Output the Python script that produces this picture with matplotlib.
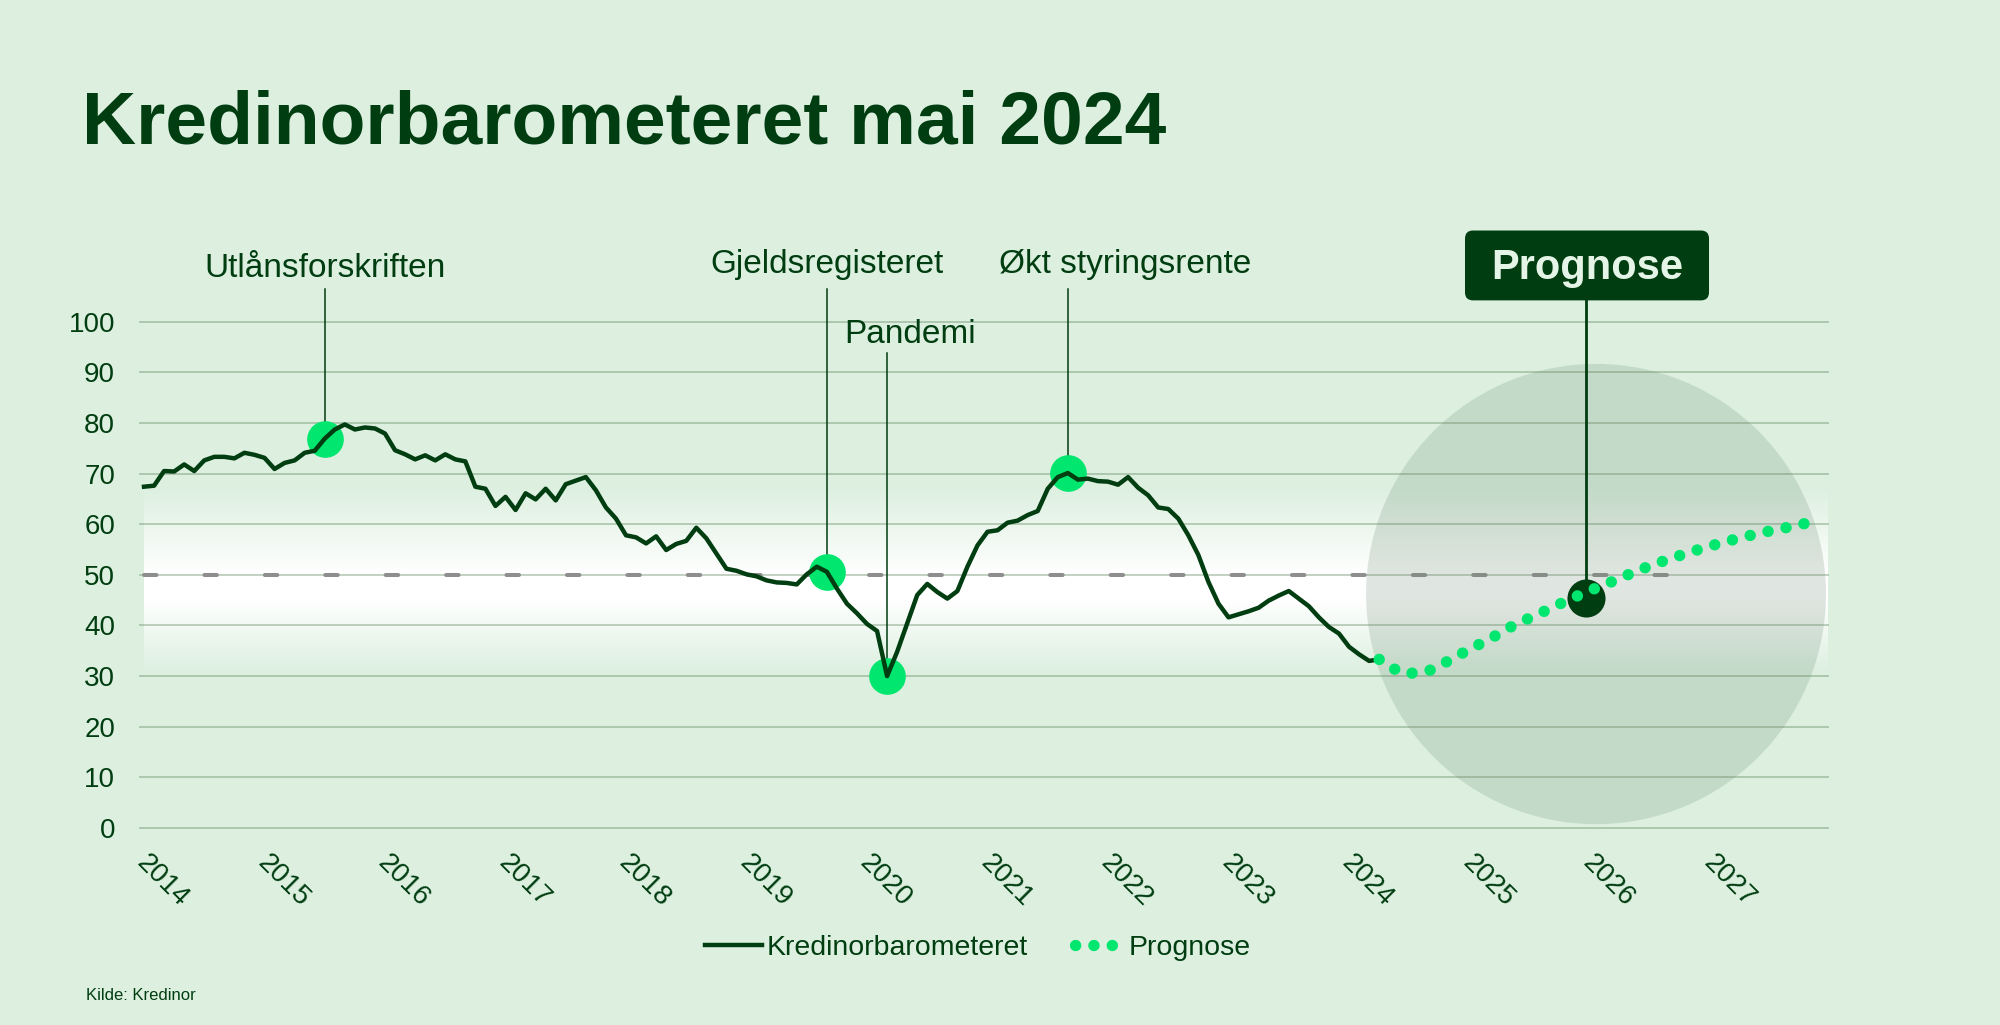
import numpy as np
import matplotlib
matplotlib.use('Agg')
import matplotlib.pyplot as plt
from matplotlib.patches import Ellipse, FancyBboxPatch
from matplotlib.transforms import ScaledTranslation

plt.rcParams['font.family'] = ['Liberation Sans', 'DejaVu Sans']

DARK = '#003d10'
GREEN = '#00e66e'
BG = '#ddf0e0'

# monthly index, Jan 2014 = 0 ... Apr 2024 = 123
barometer = [
    67.4, 67.6, 70.5, 70.4, 71.8, 70.5, 72.6, 73.3, 73.3, 73.0, 74.1, 73.7,
    73.1, 70.9, 72.1, 72.6, 74.1, 74.5, 76.9, 78.7, 79.7, 78.7, 79.1, 78.9,
    77.9, 74.6, 73.8, 72.8, 73.6, 72.6, 73.8, 72.8, 72.4, 67.4, 67.0, 63.6,
    65.4, 62.8, 66.1, 64.9, 67.0, 64.7, 67.9, 68.6, 69.3, 66.7, 63.3, 61.1,
    57.8, 57.4, 56.2, 57.6, 54.9, 56.1, 56.7, 59.3, 57.2, 54.2, 51.2, 50.8,
    50.1, 49.7, 48.9, 48.5, 48.4, 48.1, 50.1, 51.6, 50.6, 47.3, 44.3, 42.4,
    40.3, 38.9, 30.0, 34.8, 40.4, 46.0, 48.2, 46.6, 45.3, 46.8, 51.6, 55.8,
    58.5, 58.8, 60.3, 60.7, 61.8, 62.6, 67.0, 69.3, 70.1, 68.8, 69.0, 68.5,
    68.4, 67.8, 69.3, 67.2, 65.7, 63.3, 63.0, 61.1, 57.8, 53.9, 48.6, 44.3,
    41.6, 42.2, 42.8, 43.5, 44.9, 45.9, 46.8, 45.3, 43.8, 41.6, 39.7, 38.4,
    35.8, 34.3, 33.0, 33.3,
]

forecast_month = [123, 125, 126, 128, 130, 132, 134, 136, 138, 140, 142, 144,
                  146, 148, 150, 152, 154, 156, 158, 160, 162, 164, 166]
forecast = [33.3, 30.8, 30.5, 31.1, 33.1, 35.3, 37.3, 39.6, 41.5, 43.3, 45.2, 46.9,
            48.5, 50.2, 51.8, 53.2, 54.5, 55.7, 56.8, 57.8, 58.7, 59.5, 60.4]

years = list(range(2014, 2028))
y_ticks = list(range(0, 101, 10))

event_labels = ['Utlånsforskriften', 'Gjeldsregisteret', 'Pandemi', 'Økt styringsrente']
event_month = [18, 68, 74, 92]

prognose_month = 143.6
prognose_value = 45.5

months = np.arange(len(barometer))

fig = plt.figure(figsize=(20, 10.25), dpi=100, facecolor=BG)
ax = fig.add_axes([0.07, 0.1922, 0.844, 0.494])
ax.set_facecolor(BG)
for s in ax.spines.values():
    s.set_visible(False)

# white band around 50
yy = np.linspace(31, 67, 300)
alpha = np.clip(np.where(yy < 45, (yy - 31) / 14, np.where(yy > 50, (67 - yy) / 17, 1.0)), 0, 1)
band = np.ones((len(yy), 2, 4))
band[:, :, 3] = alpha[:, None]
ax.imshow(band, extent=(0, 167.7, 31, 67), origin='lower', aspect='auto',
          interpolation='bilinear', zorder=0.5)

for v in y_ticks:
    ax.axhline(v, color='#467246', alpha=0.35, lw=1.3, zorder=1, clip_on=False)

ax.plot([0, 152], [50, 50], color='#8e8e8e', lw=2.9, dashes=(3.1, 11.9),
        dash_capstyle='round', zorder=1.5)

# forecast highlight circle
ax.add_patch(Ellipse((144.6, 46.2), 45.8, 90.9, facecolor='#6e8c73', alpha=0.22,
                     edgecolor='none', zorder=2, clip_on=False))

# event markers and labels
label_pos = {
    'Utlånsforskriften': (18, 108.9, 'center', 106.4),
    'Gjeldsregisteret': (68, 109.6, 'center', 106.4),
    'Pandemi': (76.3, 95.7, 'center', 93.8),
    'Økt styringsrente': (85.1, 109.6, 'left', 106.4),
}
for name, m in zip(event_labels, event_month):
    tx, ty, ha, top = label_pos[name]
    ax.plot([m, m], [top, barometer[m]], color=DARK, lw=1.1, zorder=2.5, clip_on=False)
    ax.plot(m, barometer[m], 'o', ms=26.4, color=GREEN, mec='none', zorder=3)
    ax.text(tx, ty, name, ha=ha, va='baseline', fontsize=24, color=DARK)

ax.plot(months, barometer, color=DARK, lw=3.2, zorder=4, label='Kredinorbarometeret')

# prognose box
ax.plot([prognose_month, prognose_month], [104.2, prognose_value], color=DARK, lw=2.0,
        zorder=3.5, clip_on=False)
ax.plot(prognose_month, prognose_value, 'o', ms=27.4, color=DARK, mec='none', zorder=4.5)
ax.add_patch(FancyBboxPatch((131.55, 104.2), 24.3, 13.8,
                            boxstyle='round,pad=0,rounding_size=0.8', mutation_aspect=1.98,
                            facecolor=DARK, edgecolor='none', zorder=6, clip_on=False))
ax.text(143.7, 108.4, 'Prognose', ha='center', va='baseline', fontsize=30,
        fontweight='bold', color='#e4f4e6', zorder=7)

ax.plot(forecast_month, forecast, color=GREEN, lw=8.2, dashes=(0.01, 1.6),
        dash_capstyle='round', zorder=5, label='Prognose', clip_on=False)

ax.set_xlim(-0.4, 167.7)
ax.set_ylim(0, 100)
ax.set_yticks(y_ticks)
ax.tick_params(axis='y', length=0, pad=18, labelsize=20, labelcolor=DARK)
ax.set_xticks([12 * (y - 2014) for y in years])
ax.set_xticklabels([str(y) for y in years], rotation=-45, ha='left', rotation_mode='anchor')
ax.tick_params(axis='x', length=0, pad=15.5, labelsize=20, labelcolor=DARK)
shift = ScaledTranslation(6 / 100, 0, fig.dpi_scale_trans)
for lab in ax.get_xticklabels():
    lab.set_transform(lab.get_transform() + shift)

fig.text(82 / 2000, 1 - 144 / 1025, 'Kredinorbarometeret mai 2024', fontsize=54,
         fontweight='bold', color=DARK, ha='left', va='baseline')
fig.text(86 / 2000, 1 - 1000 / 1025, 'Kilde: Kredinor', fontsize=12, color=DARK,
         ha='left', va='baseline')

handles, labels = ax.get_legend_handles_labels()
leg = fig.legend(handles, labels, loc='center', bbox_to_anchor=(978 / 2000, 1 - 948 / 1025),
                 ncol=2, frameon=False, fontsize=20.5, handlelength=2.0,
                 handletextpad=0.15, columnspacing=1.4, labelcolor=DARK)
leg.get_lines()[1].set_linestyle((0.9, (0.01, 1.6)))

fig.savefig('out.png', dpi=100, facecolor=BG)
